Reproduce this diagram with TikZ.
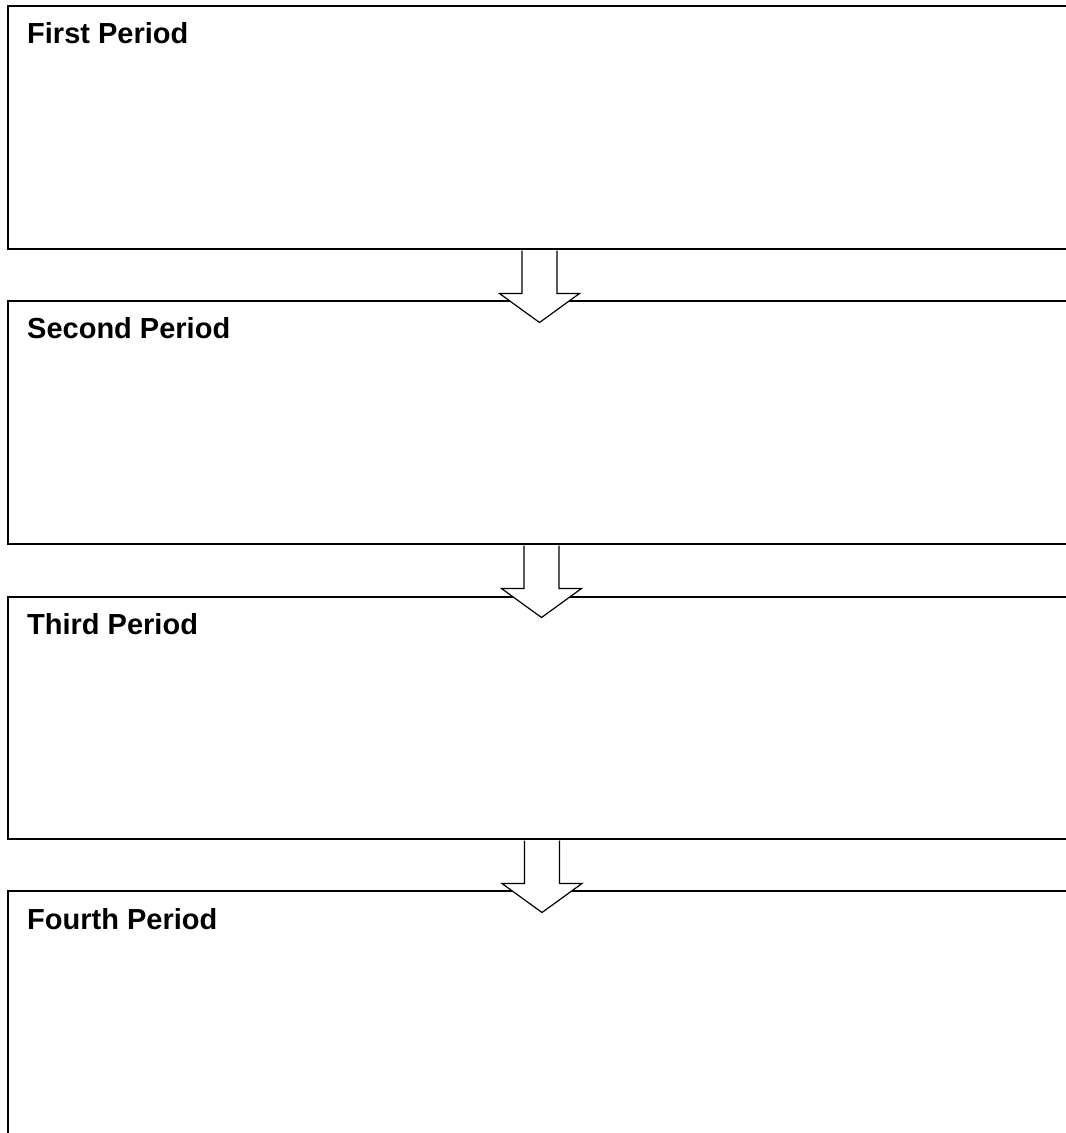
\documentclass[tikz,border=0pt]{standalone}
\usepackage{fontspec}
\setmainfont{Liberation Sans}
\usetikzlibrary{calc}
\begin{document}
\begin{tikzpicture}[x=1pt,y=-1pt,
  period/.style={draw=black,line width=1.5pt,fill=white,rectangle,inner sep=0pt,anchor=north west,minimum width=1120pt},
  ptitle/.style={anchor=base west,inner sep=0pt,font=\fontsize{29}{31}\selectfont\bfseries},
  flowarrow/.style={draw=black,line width=1.2pt,fill=white,line join=miter}]
\useasboundingbox (0,0) rectangle (1066,1133);
\clip (0,0) rectangle (1066,1133);
\node[period,minimum height=243pt] (p1) at (7,5) {};
\node[period,minimum height=243pt] (p2) at (7,300) {};
\node[period,minimum height=242pt] (p3) at (7,596) {};
\node[period,minimum height=280pt] (p4) at (7,890) {};
\node[ptitle] (t1) at ($(p1.north west)+(20,38)$) {First Period};
\node[ptitle] (t2) at ($(p2.north west)+(20,38)$) {Second Period};
\node[ptitle] (t3) at ($(p3.north west)+(20,38)$) {Third Period};
\node[ptitle] (t4) at ($(p4.north west)+(20,39)$) {Fourth Period};
% arrows between periods
\coordinate (a1) at ($(p1.south west)+(532.5,0)$);
\coordinate (a2) at ($(p2.south west)+(534.5,0)$);
\coordinate (a3) at ($(p3.south west)+(535,0)$);
\foreach \a in {a1,a2,a3}{
  \path[flowarrow] ($(\a)+(-17.5,1)$) -- ($(\a)+(-17.5,44)$) -- ($(\a)+(-40,44)$)
    -- ($(\a)+(0,73)$) -- ($(\a)+(40,44)$) -- ($(\a)+(17.5,44)$)
    -- ($(\a)+(17.5,1)$);
}
\end{tikzpicture}
\end{document}
